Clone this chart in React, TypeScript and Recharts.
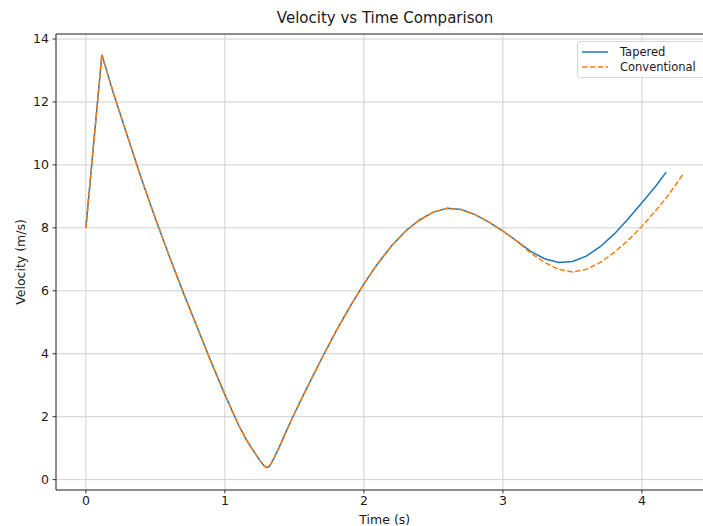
import React from 'react';
import { CartesianGrid, Legend, Line, LineChart, ReferenceArea, XAxis, YAxis } from 'recharts';

// time samples (s)
const times = [
  0, 0.115, 0.2, 0.3, 0.4, 0.5, 0.6, 0.7, 0.8, 0.9, 1.0, 1.1, 1.15, 1.2, 1.25, 1.28, 1.3, 1.32, 1.35, 1.4, 1.45,
  1.5, 1.6, 1.7, 1.8, 1.9, 2.0, 2.1, 2.2, 2.3, 2.4, 2.5, 2.6, 2.7, 2.8, 2.9, 3.0, 3.1, 3.2, 3.3, 3.4, 3.5, 3.6,
  3.7, 3.8, 3.9, 4.0, 4.1, 4.175, 4.2, 4.3,
];

const tapered = [
  8.0, 13.5, 12.25, 10.9, 9.55, 8.3, 7.1, 5.95, 4.85, 3.75, 2.7, 1.72, 1.3, 0.95, 0.62, 0.45, 0.38, 0.42, 0.65,
  1.12, 1.62, 2.1, 3.0, 3.88, 4.72, 5.5, 6.22, 6.87, 7.43, 7.9, 8.25, 8.5, 8.62, 8.58, 8.42, 8.18, 7.9, 7.58,
  7.25, 7.02, 6.9, 6.93, 7.1, 7.4, 7.8, 8.28, 8.8, 9.33, 9.77, null, null,
];

const conventional = [
  8.0, 13.5, 12.25, 10.9, 9.55, 8.3, 7.1, 5.95, 4.85, 3.75, 2.7, 1.72, 1.3, 0.95, 0.62, 0.45, 0.38, 0.42, 0.65,
  1.12, 1.62, 2.1, 3.0, 3.88, 4.72, 5.5, 6.22, 6.87, 7.43, 7.9, 8.25, 8.5, 8.62, 8.58, 8.42, 8.18, 7.9, 7.58,
  7.2, 6.9, 6.68, 6.6, 6.68, 6.9, 7.22, 7.6, 8.05, 8.55, 8.95, 9.1, 9.73,
];

const seriesOrder = ['Tapered', 'Conventional'];
const xTicks = [0, 1, 2, 3, 4];
const yTicks = [0, 2, 4, 6, 8, 10, 12, 14];

const X_DOMAIN: [number, number] = [-0.215, 4.515];
const Y_DOMAIN: [number, number] = [-0.33, 14.16];

const data = times.map((t, i) => ({ t, tapered: tapered[i], conventional: conventional[i] }));

const FONT = '"DejaVu Sans", Verdana, sans-serif';
const TEXT = '#1a1a1a';
const SPINE = '#333';

const LegendBox = ({ payload }: any) => {
  const items = [...(payload || [])].sort(
    (a: any, b: any) => seriesOrder.indexOf(a.value) - seriesOrder.indexOf(b.value),
  );
  return (
    <div
      style={{
        background: 'rgba(255,255,255,0.8)',
        border: '1px solid #d6d6d6',
        borderRadius: 3,
        padding: '3px 8px 3px 4px',
        fontFamily: FONT,
        fontSize: 11.5,
        color: TEXT,
        width: 160,
        boxSizing: 'border-box',
      }}
    >
      {items.map((entry: any) => (
        <div key={entry.value} style={{ display: 'flex', alignItems: 'center', height: 14.7 }}>
          <svg width={26} height={10} style={{ marginRight: 12, flex: 'none' }}>
            <line
              x1={0}
              x2={26}
              y1={5}
              y2={5}
              stroke={entry.color}
              strokeWidth={1.5}
              strokeDasharray={entry.payload?.strokeDasharray}
            />
          </svg>
          <span style={{ whiteSpace: 'nowrap' }}>{entry.value}</span>
        </div>
      ))}
    </div>
  );
};

const YLabel = ({ viewBox }: any) => {
  const cy = viewBox.y + viewBox.height / 2;
  return (
    <text
      x={20}
      y={cy}
      transform={`rotate(-90, 20, ${cy})`}
      textAnchor="middle"
      dominantBaseline="central"
      fontSize={12.5}
      fontFamily={FONT}
      fill={TEXT}
    >
      Velocity (m/s)
    </text>
  );
};

const XLabel = ({ viewBox }: any) => (
  <text
    x={viewBox.x + viewBox.width / 2}
    y={519}
    textAnchor="middle"
    dominantBaseline="central"
    fontSize={12.5}
    fontFamily={FONT}
    fill={TEXT}
  >
    Time (s)
  </text>
);

export default function App() {
  return (
    <div
      style={{
        position: 'fixed',
        left: 0,
        top: 0,
        width: 703,
        height: 526,
        overflow: 'hidden',
        background: '#fff',
        fontFamily: FONT,
      }}
    >
      <div
        style={{
          position: 'absolute',
          left: 0,
          top: 10,
          width: 770,
          textAlign: 'center',
          fontSize: 15,
          lineHeight: '16px',
          color: TEXT,
        }}
      >
        Velocity vs Time Comparison
      </div>
      <LineChart width={730} height={526} data={data} margin={{ top: 34, right: 16.5, bottom: 0, left: 0 }}>
        <CartesianGrid stroke="#d0d0d0" strokeWidth={1} />
        <XAxis
          dataKey="t"
          type="number"
          domain={X_DOMAIN}
          ticks={xTicks}
          allowDataOverflow
          height={36}
          axisLine={false}
          tickSize={3.5}
          tickMargin={3}
          tickLine={{ stroke: SPINE }}
          tick={{ fontSize: 12.5, fill: TEXT, fontFamily: FONT }}
          label={<XLabel />}
        />
        <YAxis
          type="number"
          domain={Y_DOMAIN}
          ticks={yTicks}
          allowDataOverflow
          width={56}
          axisLine={false}
          tickSize={3.5}
          tickMargin={3.5}
          tickLine={{ stroke: SPINE }}
          tick={{ fontSize: 12.5, fill: TEXT, fontFamily: FONT }}
          label={<YLabel />}
        />
        <ReferenceArea
          x1={X_DOMAIN[0]}
          x2={X_DOMAIN[1]}
          y1={Y_DOMAIN[0]}
          y2={Y_DOMAIN[1]}
          fill="none"
          stroke={SPINE}
          strokeWidth={1}
          ifOverflow="visible"
        />
        <Legend
          layout="horizontal"
          verticalAlign="middle"
          align="center"
          content={<LegendBox />}
          wrapperStyle={{ left: 577, top: 41, width: 160, height: 'auto' }}
        />
        <Line
          dataKey="tapered"
          name="Tapered"
          type="linear"
          stroke="#1f77b4"
          strokeWidth={1.5}
          dot={false}
          activeDot={false}
          isAnimationActive={false}
        />
        <Line
          dataKey="conventional"
          name="Conventional"
          type="linear"
          stroke="#ff7f0e"
          strokeWidth={1.5}
          strokeDasharray="5.5 2.4"
          dot={false}
          activeDot={false}
          connectNulls
          isAnimationActive={false}
        />
      </LineChart>
    </div>
  );
}
